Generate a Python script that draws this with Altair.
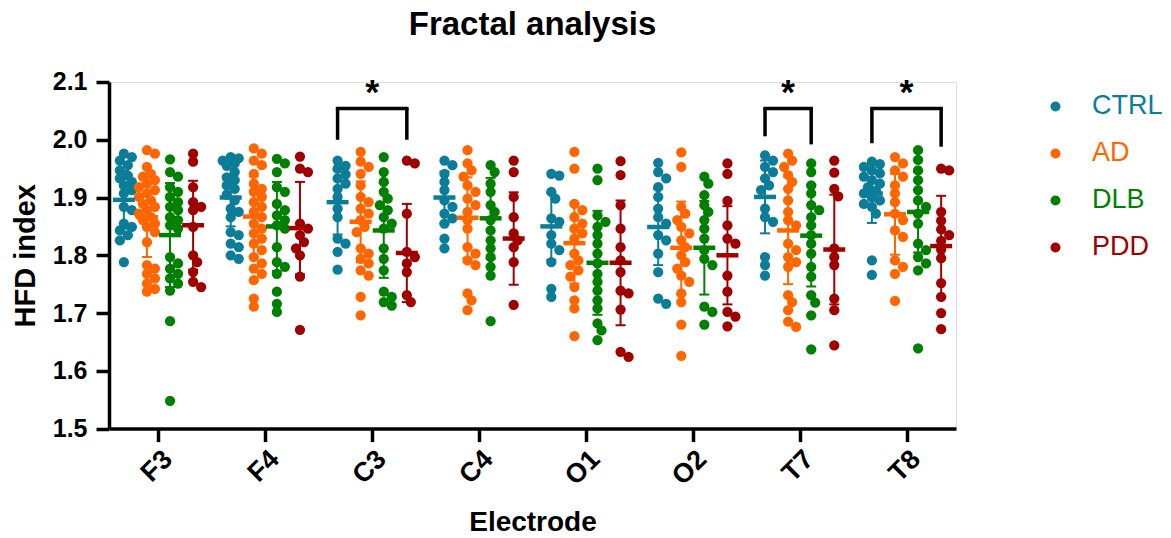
import json
import altair as alt
import numpy as np
import pandas as pd

FONT = "Liberation Sans"
ELECTRODES = ["F3", "F4", "C3", "C4", "O1", "O2", "T7", "T8"]
GROUPS = ["CTRL", "AD", "DLB", "PDD"]
COLORS = ["#0B7D99", "#FF6600", "#008000", "#A00000"]

# ---- individual HFD values ----
F3_CTRL = [1.976, 1.970, 1.964, 1.956, 1.947, 1.938, 1.933, 1.927, 1.921, 1.913, 1.907, 1.884, 1.878, 1.855, 1.849, 1.843, 1.835, 1.826, 1.788]
F3_AD = [1.982, 1.976, 1.953, 1.941, 1.936, 1.930, 1.924, 1.918, 1.913, 1.907, 1.901, 1.895, 1.889, 1.884, 1.878, 1.872, 1.866, 1.861, 1.855, 1.849, 1.840, 1.823, 1.783, 1.777, 1.768, 1.760, 1.751, 1.742, 1.737]
F3_DLB = [1.966, 1.944, 1.936, 1.918, 1.910, 1.901, 1.892, 1.884, 1.878, 1.866, 1.861, 1.852, 1.846, 1.797, 1.786, 1.777, 1.768, 1.760, 1.751, 1.739, 1.686, 1.548]
F3_PDD = [1.976, 1.962, 1.918, 1.892, 1.884, 1.878, 1.849, 1.800, 1.788, 1.771, 1.754, 1.745]

F4_CTRL = [1.970, 1.968, 1.964, 1.959, 1.955, 1.944, 1.935, 1.930, 1.921, 1.915, 1.905, 1.895, 1.881, 1.875, 1.866, 1.840, 1.835, 1.820, 1.814, 1.800, 1.794]
F4_AD = [1.985, 1.976, 1.964, 1.956, 1.941, 1.924, 1.915, 1.910, 1.901, 1.892, 1.884, 1.875, 1.866, 1.855, 1.846, 1.838, 1.829, 1.820, 1.809, 1.797, 1.786, 1.777, 1.768, 1.757, 1.725, 1.711]
F4_DLB = [1.967, 1.959, 1.944, 1.918, 1.910, 1.889, 1.878, 1.869, 1.861, 1.852, 1.846, 1.814, 1.788, 1.780, 1.768, 1.737, 1.716, 1.702]
F4_PDD = [1.971, 1.950, 1.944, 1.855, 1.846, 1.835, 1.823, 1.812, 1.800, 1.763, 1.671]

C3_CTRL = [1.964, 1.955, 1.950, 1.940, 1.933, 1.924, 1.915, 1.901, 1.881, 1.866, 1.829, 1.820, 1.806, 1.775]
C3_AD = [1.979, 1.962, 1.953, 1.941, 1.921, 1.901, 1.892, 1.881, 1.872, 1.861, 1.849, 1.840, 1.812, 1.803, 1.794, 1.786, 1.774, 1.765, 1.728, 1.696]
C3_DLB = [1.970, 1.944, 1.927, 1.910, 1.898, 1.887, 1.878, 1.866, 1.855, 1.846, 1.812, 1.794, 1.774, 1.737, 1.728, 1.719, 1.713]
C3_PDD = [1.964, 1.959, 1.872, 1.806, 1.797, 1.786, 1.771, 1.731, 1.719]

C4_CTRL = [1.964, 1.956, 1.941, 1.927, 1.913, 1.895, 1.884, 1.872, 1.864, 1.855, 1.829, 1.812]
C4_AD = [1.982, 1.959, 1.947, 1.936, 1.921, 1.910, 1.898, 1.887, 1.875, 1.861, 1.846, 1.814, 1.803, 1.791, 1.783, 1.734, 1.722, 1.705]
C4_DLB = [1.956, 1.944, 1.924, 1.910, 1.887, 1.875, 1.861, 1.843, 1.826, 1.812, 1.797, 1.780, 1.765, 1.686]
C4_PDD = [1.964, 1.944, 1.901, 1.866, 1.838, 1.826, 1.814, 1.788, 1.714]

O1_CTRL = [1.941, 1.938, 1.910, 1.898, 1.864, 1.858, 1.835, 1.820, 1.809, 1.788, 1.742, 1.728]
O1_AD = [1.979, 1.950, 1.889, 1.878, 1.866, 1.855, 1.846, 1.838, 1.829, 1.803, 1.791, 1.783, 1.774, 1.763, 1.745, 1.722, 1.708, 1.660]
O1_DLB = [1.950, 1.930, 1.869, 1.858, 1.849, 1.835, 1.820, 1.803, 1.786, 1.768, 1.754, 1.739, 1.722, 1.708, 1.682, 1.670, 1.653]
O1_PDD = [1.963, 1.939, 1.887, 1.846, 1.814, 1.791, 1.771, 1.739, 1.734, 1.706, 1.633, 1.624]

O2_CTRL = [1.960, 1.944, 1.933, 1.918, 1.901, 1.881, 1.866, 1.855, 1.835, 1.826, 1.803, 1.771, 1.725, 1.716]
O2_AD = [1.978, 1.953, 1.884, 1.872, 1.861, 1.849, 1.838, 1.826, 1.814, 1.800, 1.788, 1.777, 1.765, 1.754, 1.734, 1.719, 1.680, 1.626]
O2_DLB = [1.936, 1.924, 1.904, 1.887, 1.875, 1.861, 1.846, 1.829, 1.809, 1.794, 1.783, 1.711, 1.702, 1.680]
O2_PDD = [1.959, 1.941, 1.894, 1.852, 1.829, 1.820, 1.765, 1.737, 1.702, 1.694, 1.677]

T7_CTRL = [1.973, 1.964, 1.953, 1.944, 1.933, 1.921, 1.913, 1.881, 1.866, 1.858, 1.797, 1.783, 1.765]
T7_AD = [1.976, 1.964, 1.953, 1.939, 1.927, 1.915, 1.895, 1.875, 1.861, 1.852, 1.820, 1.809, 1.797, 1.788, 1.780, 1.731, 1.719, 1.705, 1.685, 1.676]
T7_DLB = [1.959, 1.944, 1.921, 1.907, 1.887, 1.878, 1.866, 1.852, 1.835, 1.820, 1.803, 1.780, 1.763, 1.731, 1.718, 1.696, 1.637]
T7_PDD = [1.964, 1.943, 1.915, 1.902, 1.812, 1.797, 1.783, 1.725, 1.705, 1.644]

T8_CTRL = [1.962, 1.958, 1.953, 1.947, 1.942, 1.936, 1.930, 1.924, 1.918, 1.912, 1.907, 1.900, 1.895, 1.889, 1.884, 1.872, 1.791, 1.766]
T8_AD = [1.970, 1.959, 1.947, 1.936, 1.921, 1.907, 1.892, 1.872, 1.861, 1.843, 1.832, 1.791, 1.780, 1.768, 1.721]
T8_DLB = [1.982, 1.965, 1.947, 1.930, 1.913, 1.895, 1.884, 1.872, 1.855, 1.820, 1.809, 1.797, 1.786, 1.774, 1.639]
T8_PDD = [1.950, 1.947, 1.875, 1.860, 1.845, 1.835, 1.825, 1.810, 1.795, 1.752, 1.728, 1.700, 1.672]

# ---- mean and SD per group, in electrode order ----
MEAN_CTRL = [1.896, 1.900, 1.892, 1.900, 1.850, 1.849, 1.901, 1.907]
MEAN_AD = [1.866, 1.867, 1.858, 1.865, 1.821, 1.813, 1.843, 1.871]
MEAN_DLB = [1.835, 1.850, 1.843, 1.864, 1.787, 1.813, 1.834, 1.875]
MEAN_PDD = [1.852, 1.847, 1.804, 1.829, 1.787, 1.800, 1.810, 1.816]
SD_CTRL = [0.050, 0.050, 0.056, 0.045, 0.058, 0.066, 0.063, 0.051]
SD_AD = [0.069, 0.070, 0.070, 0.070, 0.070, 0.080, 0.093, 0.070]
SD_DLB = [0.090, 0.077, 0.082, 0.070, 0.090, 0.081, 0.088, 0.070]
SD_PDD = [0.077, 0.080, 0.085, 0.080, 0.108, 0.085, 0.095, 0.087]

# ---- significance brackets ----
SIG_ELECTRODE = ["C3", "T7", "T8"]
SIG_FROM = ["CTRL", "CTRL", "CTRL"]
SIG_TO = ["PDD", "DLB", "PDD"]
SIG_TOP = [2.054, 2.054, 2.054]
SIG_LEFT_END = [2.000, 2.006, 1.994]
SIG_RIGHT_END = [2.000, 1.992, 1.988]
SIG_LABEL = ["*", "*", "*"]

VALUES = {
    "F3": [F3_CTRL, F3_AD, F3_DLB, F3_PDD],
    "F4": [F4_CTRL, F4_AD, F4_DLB, F4_PDD],
    "C3": [C3_CTRL, C3_AD, C3_DLB, C3_PDD],
    "C4": [C4_CTRL, C4_AD, C4_DLB, C4_PDD],
    "O1": [O1_CTRL, O1_AD, O1_DLB, O1_PDD],
    "O2": [O2_CTRL, O2_AD, O2_DLB, O2_PDD],
    "T7": [T7_CTRL, T7_AD, T7_DLB, T7_PDD],
    "T8": [T8_CTRL, T8_AD, T8_DLB, T8_PDD],
}
MEANS = [MEAN_CTRL, MEAN_AD, MEAN_DLB, MEAN_PDD]
SDS = [SD_CTRL, SD_AD, SD_DLB, SD_PDD]

# ---- layout helpers ----
W, H = 847, 346.6
XDOM = [-0.463, 7.463]
YDOM = [1.5, 2.1]
PX_X = W / (XDOM[1] - XDOM[0])
PX_Y = H / (YDOM[1] - YDOM[0])
GROUP_SHIFT = 0.216


def group_pos(e, g):
    return ELECTRODES.index(e) + (GROUPS.index(g) - 1.5) * GROUP_SHIFT


def swarm(vals, step=4.0, maxk=2, mind=8.0):
    order = np.argsort(vals)[::-1]
    placed = []
    offs = [0.0] * len(vals)
    cands = [0]
    for k in range(1, maxk + 1):
        cands += [k, -k]
    for i in order:
        y = vals[i] * PX_Y
        best, bestd = 0.0, -1.0
        for c in cands:
            x = c * step
            d = min([np.hypot(x - px, y - py) for px, py in placed], default=1e9)
            if d >= mind:
                best = x
                break
            if d > bestd:
                bestd, best = d, x
        placed.append((best, y))
        offs[i] = best
    return [o / PX_X for o in offs]


pts, stats = [], []
for e in ELECTRODES:
    for gi, g in enumerate(GROUPS):
        vals = VALUES[e][gi]
        base = group_pos(e, g)
        for v, o in zip(vals, swarm(vals)):
            pts.append({"x": base + o, "y": v, "group": g})
        m = MEANS[gi][ELECTRODES.index(e)]
        s = SDS[gi][ELECTRODES.index(e)]
        stats.append({"x": base, "y": m, "lo": m - s, "hi": m + s, "group": g})
pts = pd.DataFrame(pts)
stats = pd.DataFrame(stats)

br = []
for e, a, b, top, le, re_, lab in zip(SIG_ELECTRODE, SIG_FROM, SIG_TO, SIG_TOP, SIG_LEFT_END, SIG_RIGHT_END, SIG_LABEL):
    xa, xb = group_pos(e, a), group_pos(e, b)
    br.append({"x": xa, "x2": xb, "y": top, "yl": le, "yr": re_, "xm": (xa + xb) / 2, "label": lab})
br = pd.DataFrame(br)

label_expr = "{}[datum.value]".format(json.dumps(ELECTRODES).replace('"', "'"))

XAX = alt.Axis(
    values=list(range(8)), labelExpr=label_expr, title="Electrode", grid=False,
    labelAngle=-45, labelFontSize=27, labelFontWeight="bold", labelFont=FONT,
    labelColor="black", labelPadding=4, tickSize=13, tickWidth=3.5, tickColor="black",
    domainWidth=3.5, domainColor="black", titleFontSize=28, titleFontWeight="bold",
    titleFont=FONT, titleColor="black", titlePadding=19,
)
YAX = alt.Axis(
    values=[1.5, 1.6, 1.7, 1.8, 1.9, 2.0, 2.1], format=".1f", title="HFD index",
    grid=False, labelFontSize=25, labelFontWeight="bold", labelFont=FONT,
    labelColor="black", labelPadding=9, tickSize=13, tickWidth=3.5, tickColor="black",
    domainWidth=3.5, domainColor="black", titleFontSize=29, titleFontWeight="bold",
    titleFont=FONT, titleColor="black", titlePadding=12,
)


def X(f):
    return alt.X(f"{f}:Q", scale=alt.Scale(domain=XDOM, nice=False, zero=False), axis=XAX, title="Electrode")


def Y(f):
    return alt.Y(f"{f}:Q", scale=alt.Scale(domain=YDOM, nice=False, zero=False), axis=YAX, title="HFD index")


color_scale = alt.Scale(domain=GROUPS, range=COLORS)

points = alt.Chart(pts).mark_circle(size=105, opacity=1).encode(
    x=X("x"), y=Y("y"),
    color=alt.Color("group:N", scale=color_scale, sort=GROUPS, legend=alt.Legend(
        title=None, orient="none", legendX=933, legendY=11, labelFontSize=27,
        labelFont=FONT, symbolType="circle", symbolSize=100, rowPadding=19,
        labelOffset=23, symbolStrokeWidth=0, symbolOpacity=1,
        labelColor={"expr": "scale('color', datum.value)"},
    )),
)
nolegend = alt.Color("group:N", scale=color_scale, legend=None)
ebar = alt.Chart(stats).mark_rule(strokeWidth=2, opacity=1).encode(x=X("x"), y=Y("lo"), y2="hi:Q", color=nolegend)
cap_lo = alt.Chart(stats).mark_tick(orient="horizontal", size=10, thickness=2, opacity=1).encode(x=X("x"), y=Y("lo"), color=nolegend)
cap_hi = alt.Chart(stats).mark_tick(orient="horizontal", size=10, thickness=2, opacity=1).encode(x=X("x"), y=Y("hi"), color=nolegend)
mean = alt.Chart(stats).mark_tick(orient="horizontal", size=22, thickness=4.5, opacity=1).encode(x=X("x"), y=Y("y"), color=nolegend)

top_rule = alt.Chart(br).mark_rule(strokeWidth=3.5, color="black", strokeCap="square").encode(x=X("x"), x2="x2:Q", y=Y("y"))
left_leg = alt.Chart(br).mark_rule(strokeWidth=3.5, color="black").encode(x=X("x"), y=Y("yl"), y2="y:Q")
right_leg = alt.Chart(br).mark_rule(strokeWidth=3.5, color="black").encode(x=X("x2"), y=Y("yr"), y2="y:Q")
stars = alt.Chart(br).mark_text(fontSize=36, fontWeight="bold", font=FONT, color="black", baseline="alphabetic", dy=-5).encode(
    x=X("xm"), y=Y("y"), text="label:N")

chart = alt.layer(points, ebar, cap_lo, cap_hi, mean, top_rule, left_leg, right_leg, stars).properties(
    width=W, height=H,
    autosize=alt.AutoSizeParams(type="none"),
    padding={"left": 101, "top": 74, "right": 207, "bottom": 110},
    title=alt.TitleParams("Fractal analysis", fontSize=33, fontWeight="bold", font=FONT,
                          color="black", anchor="middle", frame="group", offset=28),
).configure_view(stroke=None).configure(background="white")

chart.save("out.html", embed_options={"renderer": "svg", "actions": False})
